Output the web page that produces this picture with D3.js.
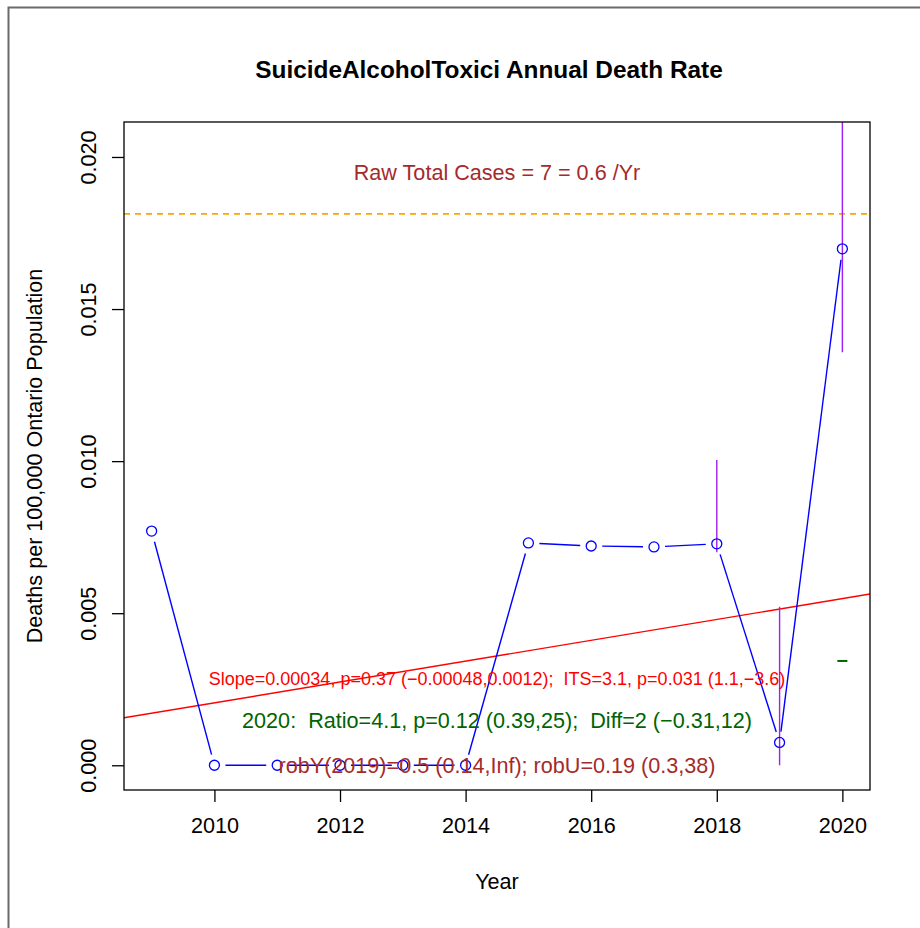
<!DOCTYPE html>
<html>
<head>
<meta charset="utf-8">
<script src="https://cdn.jsdelivr.net/npm/d3@7"></script>
<style>
  body { margin: 0; background: #fff; }
  text { font-family: "Liberation Sans", Arial, sans-serif; white-space: pre; }
</style>
</head>
<body>
<div id="chart"></div>
<script>
// data
var years = [2009, 2010, 2011, 2012, 2013, 2014, 2015, 2016, 2017, 2018, 2019, 2020];
var rates = [0.0077, 0, 0, 0, 0, 0, 0.00731, 0.00721, 0.00718, 0.00728, 0.00075, 0.01698];
var ciYears = [2018, 2019, 2020];
var ciLow = [0.0070, 0.0, 0.01358];
var ciHigh = [0.01004, 0.00521, 0.0245];
var trendYears = [2008.56, 2020.44];
var trendValues = [0.00156, 0.00563];
var refLevel = 0.01813;
var predYear = [2020];
var predValue = [0.00343];
var xTicks = [2010, 2012, 2014, 2016, 2018, 2020];
var yTicks = [0, 0.005, 0.010, 0.015, 0.020];

var W = 920, H = 928;
var m = {left: 124, right: 870, top: 122, bottom: 790};
var fs = 21.6;

var svg = d3.select("#chart").append("svg")
    .attr("width", W)
    .attr("height", H);

svg.append("rect").attr("width", W).attr("height", H).attr("fill", "#fff");

// outer frame (left and top edges visible)
svg.append("path")
    .attr("d", "M8.5," + H + " L8.5,7.5 L" + W + ",7.5")
    .attr("fill", "none")
    .attr("stroke", "#6b6b6b")
    .attr("stroke-width", 2);

var x = d3.scaleLinear().domain([2008.56, 2020.44]).range([m.left, m.right]);
var y = d3.scaleLinear().domain([-0.000813, 0.02115]).range([m.bottom, m.top]);

svg.append("clipPath").attr("id", "clip")
  .append("rect")
    .attr("x", m.left).attr("y", m.top)
    .attr("width", m.right - m.left).attr("height", m.bottom - m.top);

var plot = svg.append("g").attr("clip-path", "url(#clip)");

// orange reference line
plot.append("line")
    .attr("x1", m.left).attr("x2", m.right)
    .attr("y1", y(refLevel)).attr("y2", y(refLevel))
    .attr("stroke", "#FFA500")
    .attr("stroke-width", 1.6)
    .attr("stroke-dasharray", "6,5");

// trend line
plot.append("line")
    .attr("x1", x(trendYears[0])).attr("y1", y(trendValues[0]))
    .attr("x2", x(trendYears[1])).attr("y2", y(trendValues[1]))
    .attr("stroke", "#FF0000")
    .attr("stroke-width", 1.4);

// confidence bars
ciYears.forEach(function(yr, i) {
    plot.append("line")
        .attr("x1", x(yr)).attr("x2", x(yr))
        .attr("y1", y(ciLow[i])).attr("y2", y(ciHigh[i]))
        .attr("stroke", "#A020F0")
        .attr("stroke-width", 1.4);
});

// connecting segments with gaps (type = "b")
var gap = 11;
for (var i = 0; i < years.length - 1; i++) {
    var x1 = x(years[i]), y1 = y(rates[i]);
    var x2 = x(years[i + 1]), y2 = y(rates[i + 1]);
    var dx = x2 - x1, dy = y2 - y1;
    var len = Math.sqrt(dx * dx + dy * dy);
    if (len <= 2 * gap) continue;
    var ux = dx / len, uy = dy / len;
    plot.append("line")
        .attr("x1", x1 + ux * gap).attr("y1", y1 + uy * gap)
        .attr("x2", x2 - ux * gap).attr("y2", y2 - uy * gap)
        .attr("stroke", "#0000FF")
        .attr("stroke-width", 1.4);
}

plot.selectAll("circle.pt")
    .data(years)
    .enter().append("circle")
    .attr("class", "pt")
    .attr("cx", function(d) { return x(d); })
    .attr("cy", function(d, i) { return y(rates[i]); })
    .attr("r", 5)
    .attr("fill", "none")
    .attr("stroke", "#0000FF")
    .attr("stroke-width", 1.3);

// predicted mark
plot.selectAll("line.pred")
    .data(predYear)
    .enter().append("line")
    .attr("class", "pred")
    .attr("x1", function(d) { return x(d) - 5; })
    .attr("x2", function(d) { return x(d) + 5; })
    .attr("y1", function(d, i) { return y(predValue[i]); })
    .attr("y2", function(d, i) { return y(predValue[i]); })
    .attr("stroke", "#006400")
    .attr("stroke-width", 2);

// plot box
svg.append("rect")
    .attr("x", m.left).attr("y", m.top)
    .attr("width", m.right - m.left).attr("height", m.bottom - m.top)
    .attr("fill", "none")
    .attr("stroke", "#000")
    .attr("stroke-width", 1.3);

// axes
var xAxis = svg.append("g")
    .attr("transform", "translate(0," + m.bottom + ")")
    .call(d3.axisBottom(x).tickValues(xTicks).tickFormat(d3.format("d")).tickSize(12).tickPadding(16));
xAxis.select(".domain").remove();
xAxis.selectAll("line").attr("stroke-width", 1.3);
xAxis.selectAll("text").attr("font-size", fs).attr("fill", "#000")
    .style("font-family", "'Liberation Sans', Arial, sans-serif");

var yAxis = svg.append("g")
    .attr("transform", "translate(" + m.left + ",0)")
    .call(d3.axisLeft(y).tickValues(yTicks).tickFormat(d3.format(".3f")).tickSize(12).tickPadding(0));
yAxis.select(".domain").remove();
yAxis.selectAll("line").attr("stroke-width", 1.3);
yAxis.selectAll("text")
    .attr("x", null).attr("dy", null)
    .attr("transform", "translate(-28,0) rotate(-90)")
    .attr("text-anchor", "middle")
    .attr("font-size", fs).attr("fill", "#000")
    .style("font-family", "'Liberation Sans', Arial, sans-serif");

// titles
var cx = (m.left + m.right) / 2;
svg.append("text")
    .attr("x", cx - 8).attr("y", 78)
    .attr("text-anchor", "middle")
    .attr("font-size", 24.4).attr("font-weight", "bold")
    .text("SuicideAlcoholToxici Annual Death Rate");

svg.append("text")
    .attr("x", cx).attr("y", 889)
    .attr("text-anchor", "middle")
    .attr("font-size", fs)
    .text("Year");

svg.append("text")
    .attr("transform", "translate(42," + (m.top + m.bottom) / 2 + ") rotate(-90)")
    .attr("text-anchor", "middle")
    .attr("font-size", fs)
    .text("Deaths per 100,000 Ontario Population");

// annotations
svg.append("text")
    .attr("x", cx).attr("y", 180)
    .attr("text-anchor", "middle")
    .attr("font-size", fs).attr("fill", "#A52A2A")
    .text("Raw Total Cases = 7 = 0.6 /Yr");

svg.append("text")
    .attr("x", cx).attr("y", 685)
    .attr("text-anchor", "middle")
    .attr("font-size", 18).attr("fill", "#FF0000")
    .text("Slope=0.00034, p=0.37 (\u22120.00048,0.0012);  ITS=3.1, p=0.031 (1.1,\u22123.6)");

svg.append("text")
    .attr("x", cx).attr("y", 728)
    .attr("text-anchor", "middle")
    .attr("font-size", fs).attr("fill", "#006400")
    .text("2020:  Ratio=4.1, p=0.12 (0.39,25);  Diff=2 (\u22120.31,12)");

svg.append("text")
    .attr("x", cx).attr("y", 773)
    .attr("text-anchor", "middle")
    .attr("font-size", fs).attr("fill", "#A52A2A")
    .text("robY(2019)=0.5 (0.14,Inf); robU=0.19 (0.3,38)");
</script>
</body>
</html>
